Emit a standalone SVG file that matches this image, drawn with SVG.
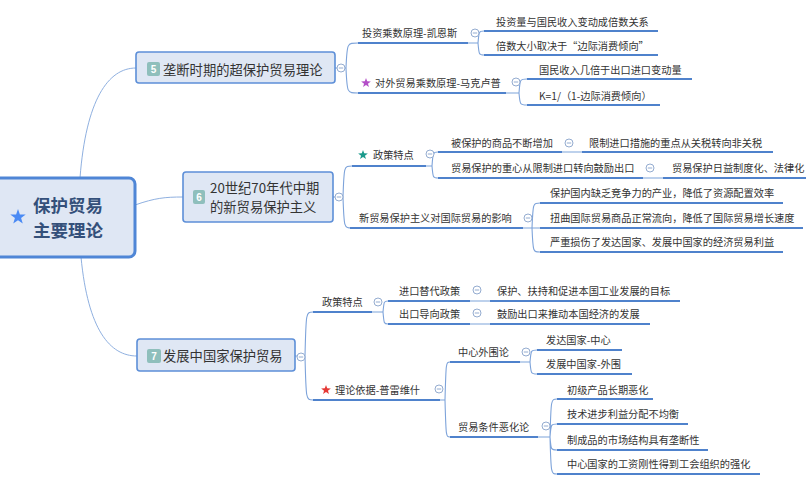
<svg xmlns="http://www.w3.org/2000/svg" xmlns:xlink="http://www.w3.org/1999/xlink" width="806" height="477" viewBox="0 0 806 477">
<style>
text{font-family:"Noto Sans CJK SC","Noto Sans",sans-serif;}
.t{font-size:10.2px;fill:#333;}
.mt{font-size:13.3px;fill:#333;}
.rt{font-size:17.5px;font-weight:bold;fill:#34507a;}
.box{fill:#dfe7f4;stroke:#5d8fd8;stroke-width:1.6;}
.ul{stroke:#4f82cc;stroke-width:2;fill:none;}
.cn{stroke:#7da3da;stroke-width:1.1;fill:none;}
.rc{stroke:#8fb0e0;stroke-width:1;fill:none;}
.badge{fill:#8fbfbc;}
.bn{font-size:10px;font-weight:bold;fill:#fff;text-anchor:middle;font-family:"Liberation Sans",sans-serif;}
.cc circle{fill:#fff;stroke:#94acd0;stroke-width:1;}
.cc line{stroke:#94acd0;stroke-width:1;}
</style>
<defs>
<path id="star" d="M0,-6 L1.41,-1.94 L5.71,-1.85 L2.28,0.74 L3.53,4.85 L0,2.4 L-3.53,4.85 L-2.28,0.74 L-5.71,-1.85 L-1.41,-1.94 Z"/>
<g id="cc" class="cc"><circle r="4"/><line x1="-2.2" y1="0" x2="2.2" y2="0"/></g>
</defs>
<rect width="806" height="477" fill="#ffffff"/>

<g id="connectors">
<path class="rc" d="M80,178 C86,100 108,68 136,68"/>
<path class="rc" d="M135,205 C155,198 165,197 183,197"/>
<path class="rc" d="M81,257 C88,330 110,356 137,356"/>
<path class="cn" d="M335,68 L346,68 M346,68 C347,43 347,43 358,43 M346,68 C347,93 347,93 358,93"/>
<path class="cn" d="M468,43 L478,43 M478,43 C479,31 479,31 484,31 M478,43 C479,55 479,55 484,55"/>
<path class="cn" d="M506,93 L519,93 M519,93 C520,79 520,79 527,79 M519,93 C520,105 520,105 527,105"/>
<path class="cn" d="M333,197 L343,197 M343,197 C344,166 344,166 352,166 M343,197 C344,228 344,228 352,228"/>
<path class="cn" d="M426,166 L432,166 M432,166 C433,152 433,152 438,152 M432,166 C433,178 433,178 438,178"/>
<path class="cn" d="M562,152 L582,152 M643,178 L663,178"/>
<path class="cn" d="M523,228 L540,228 M532,228 C533,203 533,203 540,203 M532,228 C533,252 533,252 540,252"/>
<path class="cn" d="M295,356 L305,356 M305,356 C306,312 306,312 313,312 M305,356 C306,400 306,400 313,400"/>
<path class="cn" d="M372,312 L383,312 M383,312 C384,301 384,301 388,301 M383,312 C384,324 384,324 388,324"/>
<path class="cn" d="M470,301 L490,301 M470,324 L490,324"/>
<path class="cn" d="M440,400 L445,400 M445,400 C446,362 446,362 450,362 M445,400 C446,437 446,437 450,437"/>
<path class="cn" d="M520,362 L530,362 M530,362 C531,350 531,350 537,350 M530,362 C531,374 531,374 537,374"/>
<path class="cn" d="M538,437 L550,437 M550,437 C551,399 551,399 557,399 M550,437 C551,424 551,424 557,424 M550,437 C551,450 551,450 557,450 M550,437 C551,474 551,474 557,474"/>
</g>

<g id="root">
<rect x="-10" y="178" width="145" height="79" rx="6" fill="#dfe7f4" stroke="#4f86d6" stroke-width="3"/>
<use xlink:href="#star" href="#star" transform="translate(18,217) scale(1.35)" fill="#4a8af4"/>
<text class="rt" x="33" y="211.5">保护贸易</text>
<text class="rt" x="33" y="237">主要理论</text>
</g>

<g id="n5">
<rect class="box" x="136" y="52" width="199" height="31" rx="3"/>
<rect class="badge" x="147" y="62" width="13" height="14" rx="2"/>
<text class="bn" x="153.5" y="73">5</text>
<text class="mt" x="163" y="75">垄断时期的超保护贸易理论</text>
<use href="#cc" xlink:href="#cc" x="341" y="68"/>
</g>
<g id="n5a">
<line class="ul" x1="358" y1="43" x2="468" y2="43"/>
<text class="t" x="362" y="37">投资乘数原理-凯恩斯</text>
<use href="#cc" xlink:href="#cc" x="475" y="33"/>
</g>
<g id="n5a1"><line class="ul" x1="484" y1="31" x2="658" y2="31"/><text class="t" x="496" y="25.5">投资量与国民收入变动成倍数关系</text></g>
<g id="n5a2"><line class="ul" x1="484" y1="55" x2="658" y2="55"/><text class="t" x="496" y="49.5">倍数大小取决于“边际消费倾向”</text></g>
<g id="n5b">
<line class="ul" x1="358" y1="93" x2="506" y2="93"/>
<use xlink:href="#star" href="#star" transform="translate(366,83) scale(0.85)" fill="#b44fc8"/>
<text class="t" x="375" y="87">对外贸易乘数原理-马克卢普</text>
<use href="#cc" xlink:href="#cc" x="516" y="82"/>
</g>
<g id="n5b1"><line class="ul" x1="527" y1="79" x2="692" y2="79"/><text class="t" x="539" y="73.5">国民收入几倍于出口进口变动量</text></g>
<g id="n5b2"><line class="ul" x1="527" y1="105" x2="660" y2="105"/><text class="t" x="539" y="99.5">K=1/（1-边际消费倾向）</text></g>

<g id="n6">
<rect class="box" x="183" y="172" width="150" height="50" rx="3"/>
<rect class="badge" x="193" y="190" width="12" height="14" rx="2"/>
<text class="bn" x="199" y="201">6</text>
<text class="mt" x="210" y="193">20世纪70年代中期<tspan x="210" y="212">的新贸易保护主义</tspan></text>
<use href="#cc" xlink:href="#cc" x="339" y="197"/>
</g>
<g id="n6a">
<line class="ul" x1="352" y1="166" x2="426" y2="166"/>
<use xlink:href="#star" href="#star" transform="translate(363,155) scale(0.85)" fill="#1a9a8c"/>
<text class="t" x="373" y="159">政策特点</text>
<use href="#cc" xlink:href="#cc" x="430" y="154"/>
</g>
<g id="n6a1">
<line class="ul" x1="438" y1="152" x2="562" y2="152"/>
<text class="t" x="451" y="146.5">被保护的商品不断增加</text>
<use href="#cc" xlink:href="#cc" x="569" y="143"/>
</g>
<g id="n6a1a"><line class="ul" x1="582" y1="152" x2="773" y2="152"/><text class="t" x="589" y="146.5">限制进口措施的重点从关税转向非关税</text></g>
<g id="n6a2">
<line class="ul" x1="438" y1="178" x2="643" y2="178"/>
<text class="t" x="451" y="172">贸易保护的重心从限制进口转向鼓励出口</text>
<use href="#cc" xlink:href="#cc" x="650" y="168"/>
</g>
<g id="n6a2a"><line class="ul" x1="663" y1="178" x2="806" y2="178"/><text class="t" x="672" y="172">贸易保护日益制度化、法律化</text></g>
<g id="n6b">
<line class="ul" x1="350" y1="228" x2="523" y2="228"/>
<text class="t" x="359" y="222">新贸易保护主义对国际贸易的影响</text>
<use href="#cc" xlink:href="#cc" x="528" y="218"/>
</g>
<g id="n6b1"><line class="ul" x1="540" y1="203" x2="783" y2="203"/><text class="t" x="550" y="197">保护国内缺乏竞争力的产业，降低了资源配置效率</text></g>
<g id="n6b2"><line class="ul" x1="540" y1="228" x2="803" y2="228"/><text class="t" x="550" y="222">扭曲国际贸易商品正常流向，降低了国际贸易增长速度</text></g>
<g id="n6b3"><line class="ul" x1="540" y1="252" x2="783" y2="252"/><text class="t" x="550" y="246">严重损伤了发达国家、发展中国家的经济贸易利益</text></g>

<g id="n7">
<rect class="box" x="137" y="339" width="158" height="32" rx="3"/>
<rect class="badge" x="147" y="349" width="14" height="14" rx="2"/>
<text class="bn" x="154" y="360">7</text>
<text class="mt" x="163" y="361">发展中国家保护贸易</text>
<use href="#cc" xlink:href="#cc" x="301" y="357"/>
</g>
<g id="n7a">
<line class="ul" x1="313" y1="312" x2="372" y2="312"/>
<text class="t" x="322" y="306">政策特点</text>
<use href="#cc" xlink:href="#cc" x="378" y="302"/>
</g>
<g id="n7a1">
<line class="ul" x1="388" y1="301" x2="470" y2="301"/>
<text class="t" x="399" y="295">进口替代政策</text>
<use href="#cc" xlink:href="#cc" x="477" y="290"/>
</g>
<g id="n7a1a"><line class="ul" x1="490" y1="301" x2="680" y2="301"/><text class="t" x="497" y="295">保护、扶持和促进本国工业发展的目标</text></g>
<g id="n7a2">
<line class="ul" x1="388" y1="324" x2="470" y2="324"/>
<text class="t" x="399" y="318">出口导向政策</text>
<use href="#cc" xlink:href="#cc" x="477" y="313"/>
</g>
<g id="n7a2a"><line class="ul" x1="490" y1="324" x2="650" y2="324"/><text class="t" x="497" y="318">鼓励出口来推动本国经济的发展</text></g>
<g id="n7b">
<line class="ul" x1="313" y1="400" x2="440" y2="400"/>
<use xlink:href="#star" href="#star" transform="translate(326,390) scale(0.85)" fill="#e53935"/>
<text class="t" x="335" y="394">理论依据-普雷维什</text>
<use href="#cc" xlink:href="#cc" x="439" y="389"/>
</g>
<g id="n7b1">
<line class="ul" x1="450" y1="362" x2="520" y2="362"/>
<text class="t" x="458" y="356">中心外围论</text>
<use href="#cc" xlink:href="#cc" x="526" y="352"/>
</g>
<g id="n7b1a"><line class="ul" x1="537" y1="350" x2="622" y2="350"/><text class="t" x="546" y="344">发达国家-中心</text></g>
<g id="n7b1b"><line class="ul" x1="537" y1="374" x2="632" y2="374"/><text class="t" x="546" y="368">发展中国家-外围</text></g>
<g id="n7b2">
<line class="ul" x1="450" y1="437" x2="538" y2="437"/>
<text class="t" x="458" y="431">贸易条件恶化论</text>
<use href="#cc" xlink:href="#cc" x="546" y="426"/>
</g>
<g id="n7b2a"><line class="ul" x1="557" y1="399" x2="653" y2="399"/><text class="t" x="567" y="393.5">初级产品长期恶化</text></g>
<g id="n7b2b"><line class="ul" x1="557" y1="424" x2="688" y2="424"/><text class="t" x="567" y="418">技术进步利益分配不均衡</text></g>
<g id="n7b2c"><line class="ul" x1="557" y1="450" x2="708" y2="450"/><text class="t" x="567" y="444">制成品的市场结构具有垄断性</text></g>
<g id="n7b2d"><line class="ul" x1="557" y1="474" x2="760" y2="474"/><text class="t" x="567" y="468">中心国家的工资刚性得到工会组织的强化</text></g>
</svg>
